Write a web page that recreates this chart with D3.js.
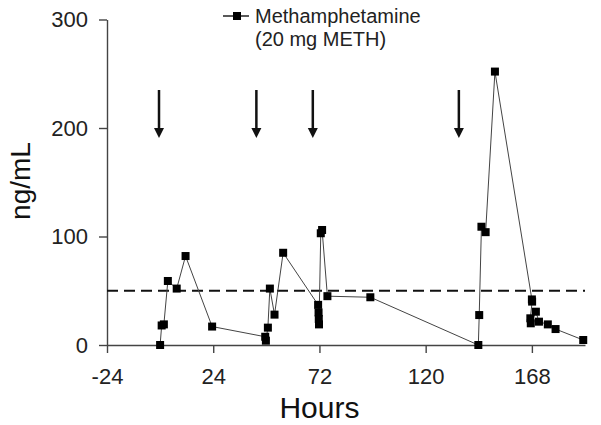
<!DOCTYPE html>
<html>
<head>
<meta charset="utf-8">
<script src="https://cdnjs.cloudflare.com/ajax/libs/d3/7.8.5/d3.min.js"></script>
<style>
  body { margin: 0; background: #fff; }
  svg { font-family: "Liberation Sans", Arial, sans-serif; }
  .axis path, .axis line { stroke: #444; stroke-width: 1.4px; }
  .axis text { font-size: 22px; fill: #222; }
</style>
</head>
<body>
<svg id="chart" width="601" height="425"></svg>
<script>
  // METH concentration vs time
  var hours = [0, 0.7, 1.7, 3.5, 7.5, 11.5, 23.5, 47.5, 47.8, 48.7, 49.6, 51.7, 55.6,
               71.4, 71.6, 71.7, 71.8, 72.6, 73.2, 75.6, 95,
               143.8, 144.2, 145.2, 147.1, 151.3, 168, 168.1, 167.3, 167.5, 169.8, 171.2, 175.2, 178.7, 191.2];
  var conc  = [0, 18, 19, 59, 52, 82, 17, 7.6, 4, 16, 52, 28, 85,
               37, 30, 24, 19, 103, 106, 45, 44,
               0, 27.6, 109, 104, 252, 42, 40, 24.6, 20, 30.7, 21.5, 19, 14.7, 4.6];
  var doseHours = [-0.5, 43.5, 69, 135];
  var cutoff = 50;
  var xTicks = [-24, 24, 72, 120, 168];
  var yTicks = [0, 100, 200, 300];

  var svg = d3.select("#chart");

  var x = d3.scaleLinear().domain([-24, 192]).range([107, 585]);
  var y = d3.scaleLinear().domain([0, 300]).range([345, 19.5]);

  // axes (plain hyphen for negatives, like the original)
  svg.append("g")
    .attr("class", "axis")
    .attr("transform", "translate(0,345)")
    .call(d3.axisBottom(x).tickValues(xTicks).tickFormat(function(d) { return String(d); })
      .tickSize(8).tickSizeOuter(0).tickPadding(12))
    .selectAll("text").attr("dy", "0.85em");

  svg.append("g")
    .attr("class", "axis")
    .attr("transform", "translate(107,0)")
    .call(d3.axisLeft(y).tickValues(yTicks).tickSize(8).tickSizeOuter(0).tickPadding(11));

  // cutoff line
  svg.append("line")
    .attr("x1", x(-24)).attr("x2", x(192))
    .attr("y1", y(cutoff)).attr("y2", y(cutoff))
    .attr("stroke", "#111").attr("stroke-width", 2)
    .attr("stroke-dasharray", "11,6");

  // dose arrows
  svg.selectAll(".dose")
    .data(doseHours)
    .enter().append("line")
    .attr("class", "dose")
    .attr("x1", function(d) { return x(d); })
    .attr("x2", function(d) { return x(d); })
    .attr("y1", 90).attr("y2", 130)
    .attr("stroke", "#111").attr("stroke-width", 2.5);

  svg.selectAll(".head")
    .data(doseHours)
    .enter().append("path")
    .attr("class", "head")
    .attr("d", function(d) { var px = x(d); return "M" + (px - 5) + ",128L" + (px + 5) + ",128L" + px + ",138Z"; })
    .attr("fill", "#111");

  // series
  var pts = hours.map(function(h, i) { return [h, conc[i]]; });

  svg.append("path")
    .datum(pts)
    .attr("fill", "none")
    .attr("stroke", "#444")
    .attr("stroke-width", 1)
    .attr("d", d3.line().x(function(d) { return x(d[0]); }).y(function(d) { return y(d[1]); }));

  svg.selectAll(".pt")
    .data(pts)
    .enter().append("rect")
    .attr("class", "pt")
    .attr("x", function(d) { return x(d[0]) - 4; })
    .attr("y", function(d) { return y(d[1]) - 4; })
    .attr("width", 8).attr("height", 8)
    .attr("fill", "#000");

  // legend
  var lg = svg.append("g");
  lg.append("line").attr("x1", 223).attr("x2", 249).attr("y1", 16).attr("y2", 16)
    .attr("stroke", "#222").attr("stroke-width", 1.5);
  lg.append("rect").attr("x", 233).attr("y", 12).attr("width", 8).attr("height", 8).attr("fill", "#000");
  lg.append("text").attr("x", 255).attr("y", 23).attr("font-size", 20).attr("fill", "#222").text("Methamphetamine");
  lg.append("text").attr("x", 255).attr("y", 46).attr("font-size", 20).attr("fill", "#222").text("(20 mg METH)");

  // axis titles
  svg.append("text")
    .attr("x", x(72)).attr("y", 418)
    .attr("text-anchor", "middle")
    .attr("font-size", 30).attr("fill", "#111")
    .text("Hours");

  svg.append("text")
    .attr("transform", "translate(30,181) rotate(-90)")
    .attr("text-anchor", "middle")
    .attr("font-size", 28).attr("fill", "#111")
    .text("ng/mL");
</script>
</body>
</html>
